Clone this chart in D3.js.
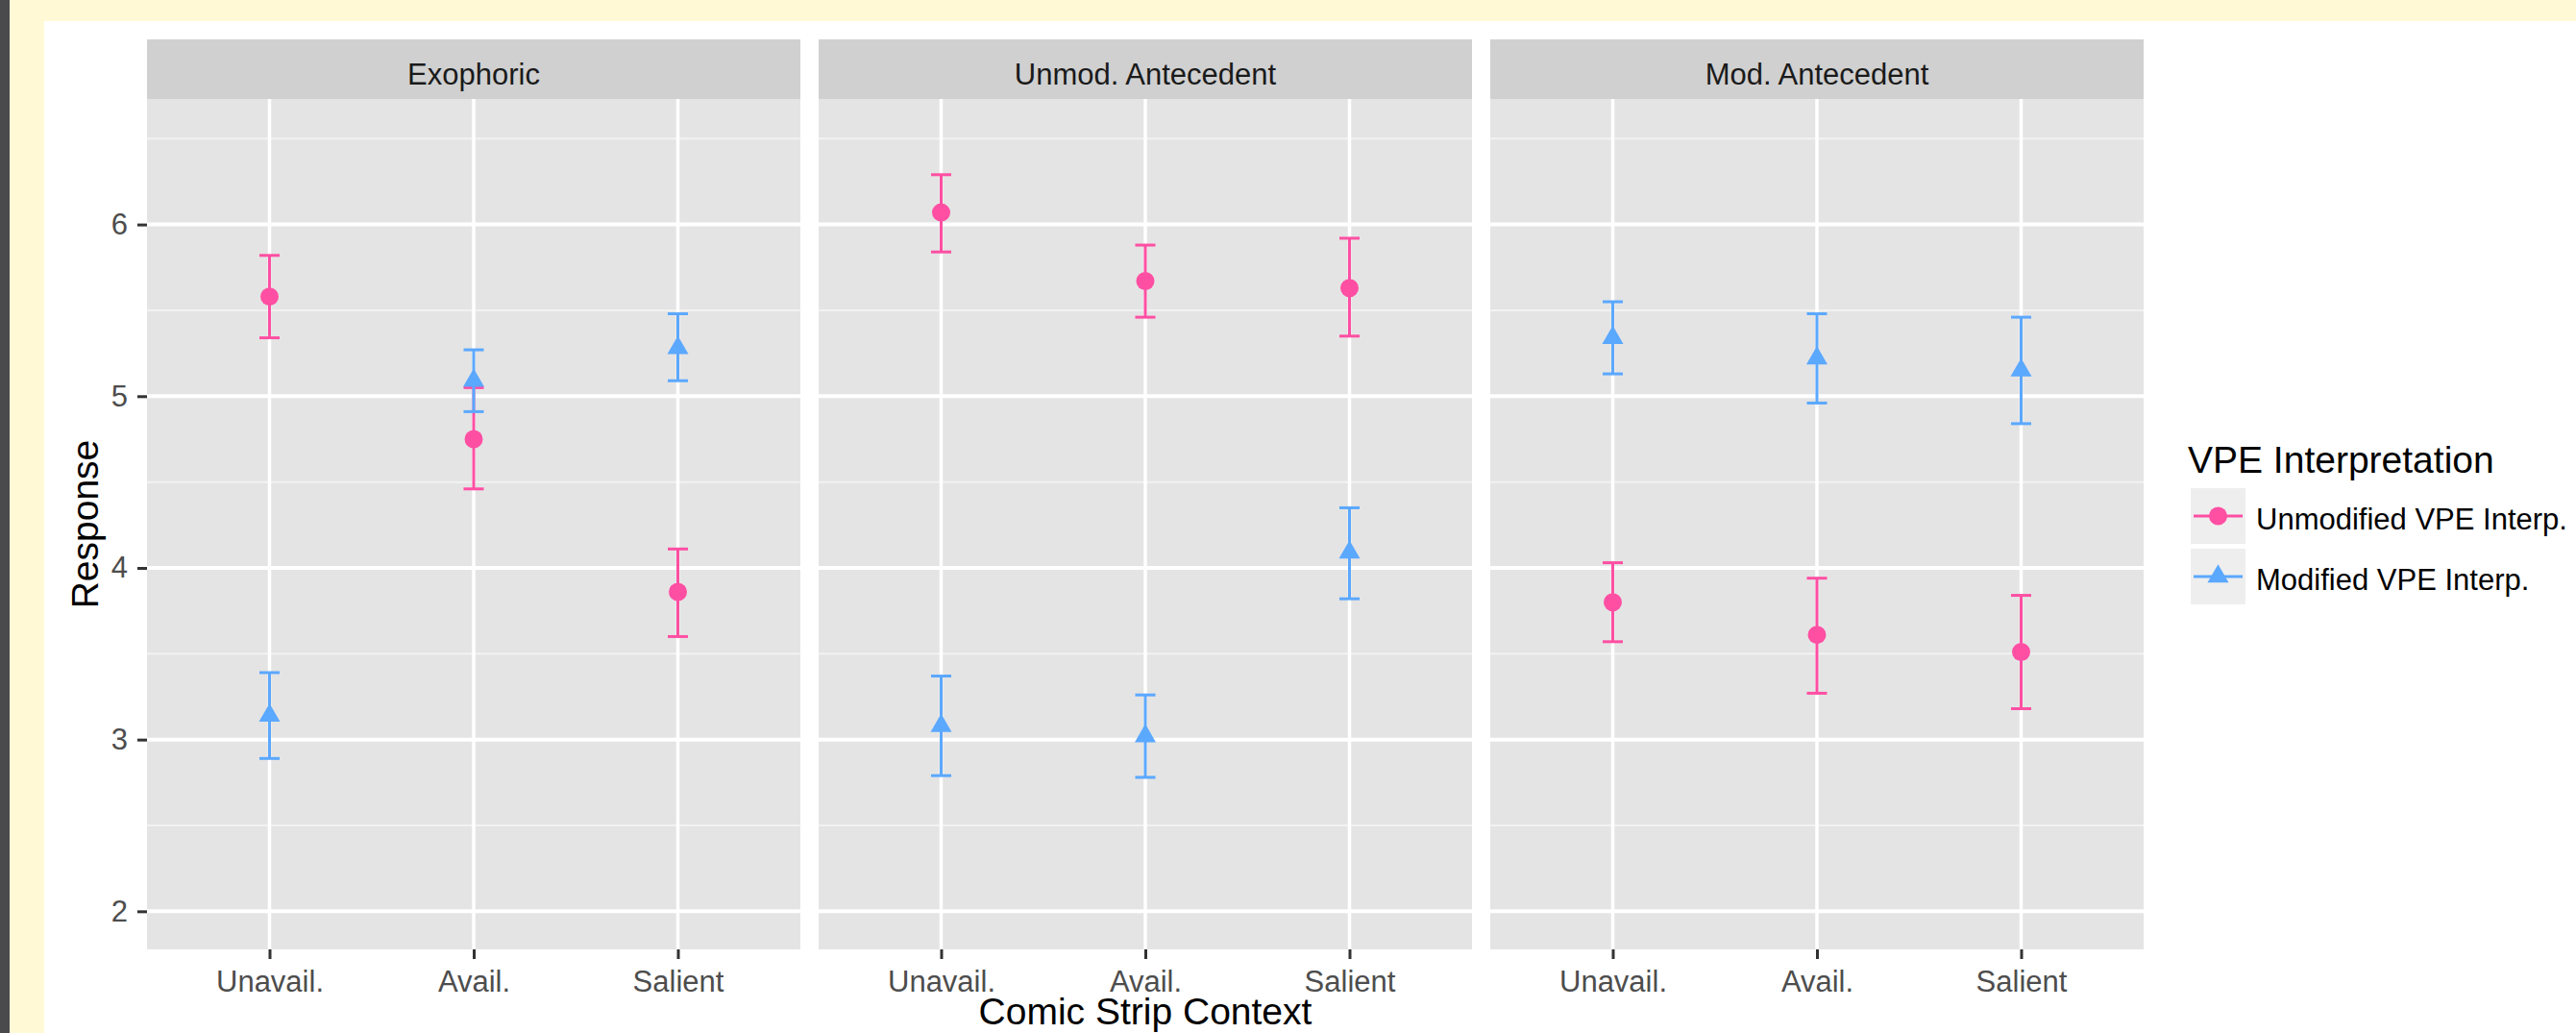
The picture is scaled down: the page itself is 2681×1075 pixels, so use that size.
<!DOCTYPE html>
<html>
<head>
<meta charset="utf-8">
<script src="https://cdn.jsdelivr.net/npm/d3@7"></script>
<style>
  body { margin: 0; background: #fff9d6; overflow: hidden; }
  svg { display: block; font-family: "Liberation Sans", Arial, Helvetica, sans-serif; }
</style>
</head>
<body>
<div id="chart"></div>
<script>
// facets, categories and series
const facets = ["Exophoric", "Unmod. Antecedent", "Mod. Antecedent"];
const contexts = ["Unavail.", "Avail.", "Salient"];
const seriesNames = ["Unmodified VPE Interp.", "Modified VPE Interp."];
const seriesColors = ["#ff4fa3", "#5ba8ff"];

// one row per facet, values in context order
const unmodMean = [[5.58, 4.75, 3.86], [6.07, 5.67, 5.63], [3.80, 3.61, 3.51]];
const unmodLow = [[5.34, 4.46, 3.60], [5.84, 5.46, 5.35], [3.57, 3.27, 3.18]];
const unmodHigh = [[5.82, 5.05, 4.11], [6.29, 5.88, 5.92], [4.03, 3.94, 3.84]];
const modMean = [[3.14, 5.09, 5.28], [3.08, 3.02, 4.09], [5.34, 5.22, 5.15]];
const modLow = [[2.89, 4.91, 5.09], [2.79, 2.78, 3.82], [5.13, 4.96, 4.84]];
const modHigh = [[3.39, 5.27, 5.48], [3.37, 3.26, 4.35], [5.55, 5.48, 5.46]];

const yTicks = [2, 3, 4, 5, 6];
const yMinor = [2.5, 3.5, 4.5, 5.5, 6.5];

// flatten into rows for drawing
const rows = [];
facets.forEach((f, i) => {
  contexts.forEach((c, j) => {
    rows.push({ facet: f, context: c, s: 0, mean: unmodMean[i][j], low: unmodLow[i][j], high: unmodHigh[i][j] });
  });
});
facets.forEach((f, i) => {
  contexts.forEach((c, j) => {
    rows.push({ facet: f, context: c, s: 1, mean: modMean[i][j], low: modLow[i][j], high: modHigh[i][j] });
  });
});

const W = 2681, H = 1075;
const svg = d3.select("#chart").append("svg").attr("width", W).attr("height", H);

// page background bits around the plot
svg.append("rect").attr("width", W).attr("height", H).attr("fill", "#fff9d6");
svg.append("rect").attr("width", 10).attr("height", H).attr("fill", "#4a4a4c");
svg.append("rect").attr("x", 46).attr("y", 22).attr("width", W - 46).attr("height", H - 22).attr("fill", "#ffffff");

// scales
const panelTop = 103, panelBottom = 988, stripTop = 41;
const fx = d3.scaleBand().domain(facets).range([153, 2231]).paddingInner(19 / 699).paddingOuter(0);
const x = d3.scalePoint().domain(contexts).range([0, fx.bandwidth()]).padding(0.6);
const y = d3.scaleLinear().domain([1.778, 6.731]).range([panelBottom, panelTop]);
const color = d3.scaleOrdinal().domain([0, 1]).range(seriesColors);
const shape = d3.scaleOrdinal().domain([0, 1]).range([d3.symbolCircle, d3.symbolTriangle]);
const symSize = [283, 210];

facets.forEach((f) => {
  const g = svg.append("g").attr("transform", `translate(${fx(f)},0)`);
  const pw = fx.bandwidth();

  // strip
  g.append("rect").attr("y", stripTop).attr("width", pw).attr("height", panelTop - stripTop).attr("fill", "#d0d0d0");
  g.append("text")
    .attr("x", pw / 2).attr("y", 88)
    .attr("text-anchor", "middle")
    .attr("font-size", 31).attr("fill", "#1a1a1a")
    .text(f);

  // panel + grid
  g.append("rect").attr("y", panelTop).attr("width", pw).attr("height", panelBottom - panelTop).attr("fill", "#e4e4e4");
  g.selectAll(".minor").data(yMinor).join("line")
    .attr("x1", 0).attr("x2", pw)
    .attr("y1", (d) => y(d)).attr("y2", (d) => y(d))
    .attr("stroke", "#f2f2f2").attr("stroke-width", 2);
  g.selectAll(".major").data(yTicks).join("line")
    .attr("x1", 0).attr("x2", pw)
    .attr("y1", (d) => y(d)).attr("y2", (d) => y(d))
    .attr("stroke", "#ffffff").attr("stroke-width", 4);
  g.selectAll(".vmajor").data(contexts).join("line")
    .attr("x1", (d) => x(d)).attr("x2", (d) => x(d))
    .attr("y1", panelTop).attr("y2", panelBottom)
    .attr("stroke", "#ffffff").attr("stroke-width", 3.5);

  // x axis
  const xa = g.append("g").attr("transform", `translate(0,${panelBottom})`)
    .call(d3.axisBottom(x).tickSize(10).tickPadding(12));
  xa.select(".domain").remove();
  xa.selectAll("line").attr("stroke", "#333333").attr("stroke-width", 3);
  xa.selectAll("text").attr("font-size", 31).attr("fill", "#4d4d4d").attr("font-family", null);

  const data = rows.filter((d) => d.facet === f);

  // error bars
  const eb = g.selectAll(".eb").data(data).join("g").attr("stroke", (d) => color(d.s)).attr("stroke-width", 3);
  eb.append("line")
    .attr("x1", (d) => x(d.context)).attr("x2", (d) => x(d.context))
    .attr("y1", (d) => y(d.low)).attr("y2", (d) => y(d.high));
  eb.append("line")
    .attr("x1", (d) => x(d.context) - 10.5).attr("x2", (d) => x(d.context) + 10.5)
    .attr("y1", (d) => y(d.low)).attr("y2", (d) => y(d.low));
  eb.append("line")
    .attr("x1", (d) => x(d.context) - 10.5).attr("x2", (d) => x(d.context) + 10.5)
    .attr("y1", (d) => y(d.high)).attr("y2", (d) => y(d.high));

  // points
  g.selectAll(".pt").data(data).join("path")
    .attr("transform", (d) => `translate(${x(d.context)},${y(d.mean)})`)
    .attr("d", (d) => d3.symbol().type(shape(d.s)).size(symSize[d.s])())
    .attr("fill", (d) => color(d.s));
});

// y axis on the first panel
const ya = svg.append("g").attr("transform", `translate(153,0)`)
  .call(d3.axisLeft(y).tickValues(yTicks).tickFormat(d3.format("d")).tickSize(10).tickPadding(10));
ya.select(".domain").remove();
ya.selectAll("line").attr("stroke", "#333333").attr("stroke-width", 3);
ya.selectAll("text").attr("font-size", 31).attr("fill", "#4d4d4d").attr("font-family", null);

// axis titles
svg.append("text")
  .attr("transform", `translate(102,${(panelTop + panelBottom) / 2}) rotate(-90)`)
  .attr("text-anchor", "middle").attr("font-size", 39).attr("fill", "#000")
  .text("Response");
svg.append("text")
  .attr("x", (153 + 2231) / 2).attr("y", 1066)
  .attr("text-anchor", "middle").attr("font-size", 39).attr("fill", "#000")
  .text("Comic Strip Context");

// legend
const lg = svg.append("g").attr("transform", "translate(2277,0)");
lg.append("text").attr("x", 0).attr("y", 492).attr("font-size", 39).attr("fill", "#000").text("VPE Interpretation");
const keys = lg.selectAll(".key").data(seriesNames).join("g")
  .attr("transform", (d, i) => `translate(3,${508 + i * 63})`);
keys.append("rect").attr("width", 57).attr("height", 58).attr("fill", "#eeeeee");
keys.append("line")
  .attr("x1", 3).attr("x2", 54).attr("y1", 29).attr("y2", 29)
  .attr("stroke", (d, i) => color(i)).attr("stroke-width", 3);
keys.append("path")
  .attr("transform", "translate(28.5,29)")
  .attr("d", (d, i) => d3.symbol().type(shape(i)).size(symSize[i])())
  .attr("fill", (d, i) => color(i));
keys.append("text")
  .attr("x", 68).attr("y", 43)
  .attr("font-size", 31).attr("fill", "#000")
  .text((d) => d);
</script>
</body>
</html>
